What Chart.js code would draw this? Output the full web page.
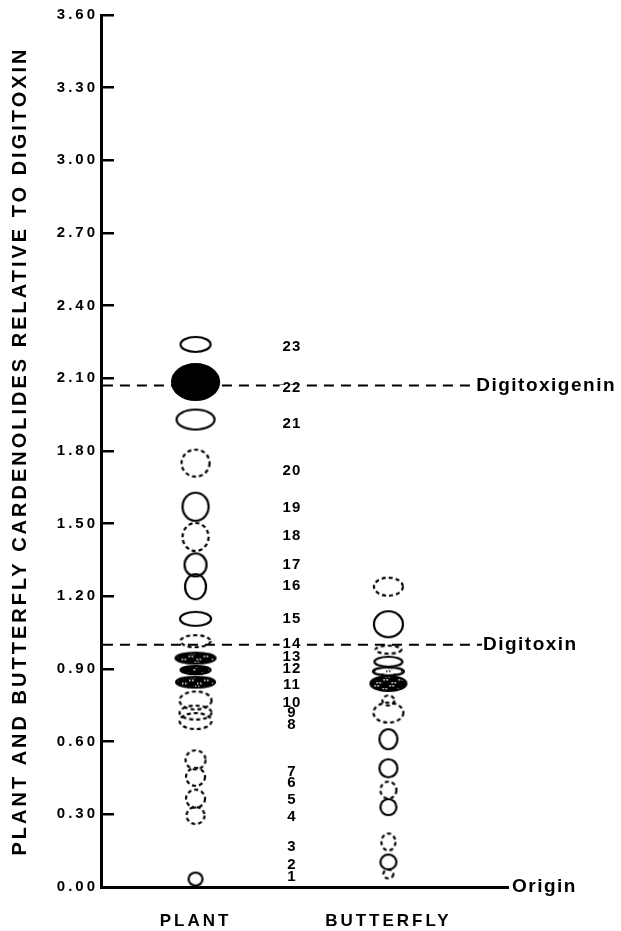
<!DOCTYPE html>
<html>
<head>
<meta charset="utf-8">
<script src="https://cdn.jsdelivr.net/npm/chart.js@4.4.1/dist/chart.umd.min.js"></script>
<style>
  html, body { margin: 0; padding: 0; background: #fff; }
</style>
</head>
<body>
<canvas id="tlcChart" width="621" height="931"></canvas>
<script>
// lanes and axis
const categories = ['PLANT', 'BUTTERFLY'];
const yTicks = [0, 0.3, 0.6, 0.9, 1.2, 1.5, 1.8, 2.1, 2.4, 2.7, 3.0, 3.3, 3.6];
const yTitle = 'PLANT AND BUTTERFLY CARDENOLIDES RELATIVE TO DIGITOXIN';

// spot positions (Rf relative to digitoxin), bottom to top
// plant spots: 1, 4..23
const plantRf = [0.033, 0.295, 0.365, 0.455, 0.525, 0.685, 0.72, 0.77, 0.846, 0.896, 0.945,
  1.015, 1.107, 1.24, 1.33, 1.445, 1.57, 1.75, 1.93, 2.085, 2.24];
const butterflyRf = [0.054, 0.103, 0.186, 0.33, 0.40, 0.49, 0.61, 0.72, 0.77, 0.84, 0.89,
  0.93, 0.98, 1.085, 1.24];

// spot numbers in the middle column
const spotNumbers = [1, 2, 3, 4, 5, 6, 7, 8, 9, 10, 11, 12, 13, 14, 15, 16, 17, 18, 19, 20, 21, 22, 23];
const spotNumberRf = [0.04, 0.09, 0.165, 0.29, 0.36, 0.43, 0.475, 0.67, 0.72, 0.76, 0.835, 0.9,
  0.95, 1.005, 1.105, 1.245, 1.33, 1.45, 1.565, 1.72, 1.91, 2.06, 2.23];

// standards
const referenceNames = ['Digitoxigenin', 'Digitoxin'];
const referenceRf = [2.07, 1.0];

// drawing style of each spot: [width px, height px, kind]
const plantShapes = [
  [16, 15, 'open'], [20, 19, 'dashed'], [21, 20, 'dashed'], [21, 20, 'dashed'], [22, 21, 'dashed'],
  [34, 18, 'dashed'], [34, 16, 'dashed'], [34, 20, 'dashed'],
  [41, 13, 'dark'], [32, 10, 'darker'], [42, 13, 'dark'],
  [32, 14, 'dashed'], [33, 16, 'open'], [23, 27, 'open'], [24, 25, 'open'],
  [28, 30, 'dashed'], [28, 30, 'open'], [30, 29, 'dashed'], [40, 22, 'open'],
  [49, 38, 'filled'], [32, 17, 'open']
];
const butterflyShapes = [
  [12, 11, 'dashed'], [18, 17, 'open'], [16, 19, 'dashed'], [18, 18, 'open'], [18, 19, 'dashed'],
  [20, 20, 'open'], [20, 22, 'open'], [32, 22, 'dashed'], [14, 12, 'dashed'],
  [38, 17, 'dark'], [33, 10, 'light'], [30, 12, 'open'], [28, 10, 'dashed'],
  [31, 28, 'open'], [31, 20, 'dashed']
];
const refLineEnd = [2.45, 2.485];
const FONT = "'Liberation Sans', Arial, Helvetica, sans-serif";

function makeSpot([w, h, kind]) {
  const c = document.createElement('canvas');
  c.width = w + 2;
  c.height = h + 2;
  const g = c.getContext('2d');
  const cx = c.width / 2, cy = c.height / 2;
  const ellipse = () => {
    g.beginPath();
    g.ellipse(cx, cy, w / 2 - 1, h / 2 - 1, 0, 0, Math.PI * 2);
  };
  ellipse();
  if (kind === 'filled') {
    g.fillStyle = '#000';
    g.fill();
  } else if (kind === 'dark' || kind === 'darker' || kind === 'light') {
    g.save();
    g.clip();
    g.fillStyle = kind === 'light' ? '#fff' : '#000';
    g.fillRect(0, 0, c.width, c.height);
    g.fillStyle = kind === 'light' ? '#000' : '#fff';
    const keep = kind === 'darker' ? 1 : 2;
    for (let y = 2; y < c.height - 1; y += 3) {
      for (let x = 2 + (y % 2); x < c.width - 1; x += 3) {
        if ((x * 7 + y * 13) % 5 < keep) g.fillRect(x, y, 1.5, 1.5);
      }
    }
    g.restore();
  }
  g.lineWidth = 2.2;
  g.strokeStyle = '#000';
  if (kind === 'dashed') g.setLineDash([4, 3]);
  ellipse();
  g.stroke();
  return c;
}

const spotDataset = (lane, values, shapes) => ({
  data: values.map(v => ({ x: lane, y: v })),
  pointStyle: shapes.map(makeSpot),
  pointRadius: 6,
  clip: false
});

const referenceDatasets = referenceRf.map((rf, i) => ({
  data: [{ x: 0.52, y: rf }, { x: refLineEnd[i], y: rf }],
  showLine: true,
  borderColor: '#000',
  borderWidth: 2,
  borderDash: [10, 7],
  pointRadius: 0,
  clip: false
}));

const tlcText = {
  id: 'tlcText',
  beforeDraw(chart) {
    chart.ctx.letterSpacing = '3px';
  },
  afterDatasetsDraw(chart) {
    const { ctx, scales: { x, y } } = chart;
    ctx.save();
    ctx.fillStyle = '#000';
    ctx.textBaseline = 'middle';
    ctx.letterSpacing = '1px';
    ctx.font = 'bold 15px ' + FONT;
    ctx.textAlign = 'center';
    const nx = x.getPixelForValue(1.5);
    spotNumbers.forEach((n, i) => {
      const py = y.getPixelForValue(spotNumberRf[i]);
      if (referenceRf.some(r => Math.abs(r - spotNumberRf[i]) < 0.03)) {
        const w = ctx.measureText(String(n)).width;
        ctx.save();
        ctx.fillStyle = '#fff';
        ctx.fillRect(nx - w / 2 - 3, py - 3, w + 6, 6);
        ctx.restore();
      }
      ctx.fillText(String(n), nx, py);
    });
    ctx.textAlign = 'left';
    ctx.font = 'bold 19px ' + FONT;
    ctx.letterSpacing = '1.5px';
    referenceNames.forEach((name, i) => {
      ctx.fillText(name, x.getPixelForValue(refLineEnd[i]) + 1, y.getPixelForValue(referenceRf[i]));
    });
    ctx.fillText('Origin', x.right + 4, y.getPixelForValue(0));
    ctx.restore();
  }
};

new Chart(document.getElementById('tlcChart'), {
  type: 'scatter',
  data: {
    datasets: [
      spotDataset(1, plantRf, plantShapes),
      spotDataset(2, butterflyRf, butterflyShapes),
      ...referenceDatasets
    ]
  },
  options: {
    responsive: false,
    animation: false,
    devicePixelRatio: 1,
    layout: { padding: { left: 0, right: 113, top: 15, bottom: 0 } },
    plugins: { legend: { display: false }, tooltip: { enabled: false } },
    scales: {
      x: {
        type: 'linear',
        min: 0.51,
        max: 2.62,
        afterBuildTicks: s => { s.ticks = categories.map((c, i) => ({ value: i + 1 })); },
        afterFit: s => { s.height = 44; },
        grid: { display: false },
        border: { display: true, color: '#000', width: 3 },
        ticks: {
          callback: v => categories[v - 1],
          color: '#000',
          font: { family: FONT, size: 17, weight: 'bold' },
          padding: 16,
          autoSkip: false,
          maxRotation: 0
        }
      },
      y: {
        min: 0,
        max: 3.6,
        afterBuildTicks: s => { s.ticks = yTicks.map(v => ({ value: v })); },
        afterFit: s => { s.width = 101; s.paddingTop = 0; s.paddingBottom = 0; },
        grid: { drawOnChartArea: false, drawTicks: true, tickLength: -13, lineWidth: 2.5, color: '#000' },
        border: { display: true, color: '#000', width: 3 },
        ticks: {
          callback: v => v.toFixed(2),
          color: '#000',
          font: { family: FONT, size: 15, weight: 'bold' },
          padding: 16
        },
        title: {
          display: true,
          text: yTitle,
          color: '#000',
          font: { family: FONT, size: 20, weight: 'bold' },
          padding: { top: 8, bottom: 0 }
        }
      }
    }
  },
  plugins: [tlcText]
});
</script>
</body>
</html>
